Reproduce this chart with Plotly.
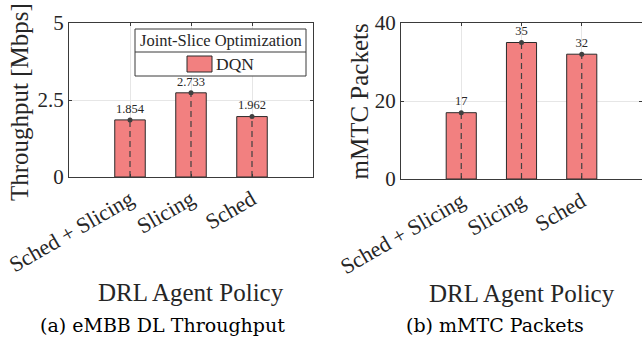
import plotly.graph_objects as go

categories = ["Sched + Slicing", "Slicing", "Sched"]
throughput = [1.854, 2.733, 1.962]
packets = [17, 35, 32]
series_name = "DQN"
legend_title = "Joint-Slice Optimization"
y1_ticks = [0, 2.5, 5]
y1_ticktext = ["0", "2.5", "5"]
y2_ticks = [0, 20, 40]

W, H = 642, 345
FONT = "Liberation Serif"
CAPFONT = "DejaVu Serif"
BAR = "#F28080"
DARK = "#404040"
TXT = "#262626"

xpos = [1, 2, 3]

fig = go.Figure()

def add_panel(vals, xa, ya, fmt):
    fig.add_trace(go.Bar(x=xpos, y=vals, width=0.5, marker=dict(color=BAR, line=dict(color="#2a2a2a", width=1)),
                         xaxis=xa, yaxis=ya, showlegend=False, name=series_name))
    sx, sy = [], []
    for x, v in zip(xpos, vals):
        sx += [x, x, None]
        sy += [0, v, None]
    fig.add_trace(go.Scatter(x=sx, y=sy, mode="lines", line=dict(color=DARK, width=1.2, dash="6px,4px"),
                             xaxis=xa, yaxis=ya, showlegend=False, hoverinfo="skip"))
    fig.add_trace(go.Scatter(x=xpos, y=vals, mode="markers+text", marker=dict(color=DARK, size=5),
                             text=[fmt.format(v) for v in vals], textposition="top center",
                             textfont=dict(family=FONT, size=12.5, color=TXT),
                             xaxis=xa, yaxis=ya, showlegend=False))

add_panel(throughput, "x", "y", "{:.3f}")
add_panel(packets, "x2", "y2", "{:d}")

def px(x): return x / W
def py(y): return 1 - y / H

axis_common = dict(showline=True, linecolor="#3a3a3a", linewidth=1.2, mirror="allticks", ticks="inside",
                   ticklen=3, tickcolor="#3a3a3a", showgrid=True, gridcolor="#e6e6e6", gridwidth=1,
                   zeroline=False, automargin=False, ticklabeloverflow="allow")

fig.update_layout(
    width=W, height=H, margin=dict(l=0, r=0, t=0, b=0, autoexpand=False), plot_bgcolor="white", paper_bgcolor="white",
    showlegend=False,
    xaxis=dict(domain=[px(69), px(313)], range=[0, 4], tickvals=xpos, ticktext=categories, tickangle=-30,
               tickfont=dict(family=FONT, size=22, color=TXT), anchor="y", **axis_common),
    yaxis=dict(domain=[py(177), py(23)], range=[0, 5], tickvals=y1_ticks, ticktext=y1_ticktext,
               tickfont=dict(family=FONT, size=21, color=TXT), anchor="x", **axis_common),
    xaxis2=dict(domain=[px(401), 1.0], range=[0, 4], tickvals=xpos, ticktext=categories, tickangle=-30,
                tickfont=dict(family=FONT, size=22, color=TXT), anchor="y2", **axis_common),
    yaxis2=dict(domain=[py(179), py(23)], range=[0, 40], tickvals=y2_ticks,
                tickfont=dict(family=FONT, size=21, color=TXT), anchor="x2", **axis_common),
)

ann = []
ann.append(dict(text="Throughput [Mbps]", x=px(19), y=py(102), textangle=-90, font=dict(family=FONT, size=25, color=TXT)))
ann.append(dict(text="mMTC Packets", x=px(359), y=py(101.5), textangle=-90, font=dict(family=FONT, size=25, color=TXT)))
ann.append(dict(text="DRL Agent Policy", x=px(191), y=py(292), font=dict(family=FONT, size=25, color=TXT)))
ann.append(dict(text="DRL Agent Policy", x=px(522), y=py(293), font=dict(family=FONT, size=25, color=TXT)))
ann.append(dict(text="(a) eMBB DL Throughput", x=px(163), y=py(325), font=dict(family=CAPFONT, size=19, color="black")))
ann.append(dict(text="(b) mMTC Packets", x=px(495), y=py(325), font=dict(family=CAPFONT, size=19, color="black")))
# legend
ann.append(dict(text=legend_title, x=px(220.5), y=py(40.5), font=dict(family=FONT, size=16.5, color=TXT)))
ann.append(dict(text=series_name, x=px(214), y=py(64), xanchor="left", font=dict(family=FONT, size=17.5, color=TXT)))
for a in ann:
    a.update(xref="paper", yref="paper", showarrow=False)
    a.setdefault("xanchor", "center")
    a.setdefault("yanchor", "middle")
fig.update_layout(annotations=ann)

shapes = [
    dict(type="rect", x0=px(135), x1=px(306), y0=py(29), y1=py(76), line=dict(color="#3a3a3a", width=1), fillcolor="white", layer="above"),
    dict(type="line", x0=px(135), x1=px(306), y0=py(52), y1=py(52), line=dict(color="#3a3a3a", width=1), layer="above"),
    dict(type="rect", x0=px(187), x1=px(212), y0=py(56), y1=py(72), line=dict(color="#2a2a2a", width=1), fillcolor=BAR, layer="above"),
]
for s in shapes:
    s.update(xref="paper", yref="paper")
fig.update_layout(shapes=shapes)

fig.write_html("out.html", config={"displayModeBar": False},
               post_script="document.body.style.margin='0';document.body.style.padding='0';")
